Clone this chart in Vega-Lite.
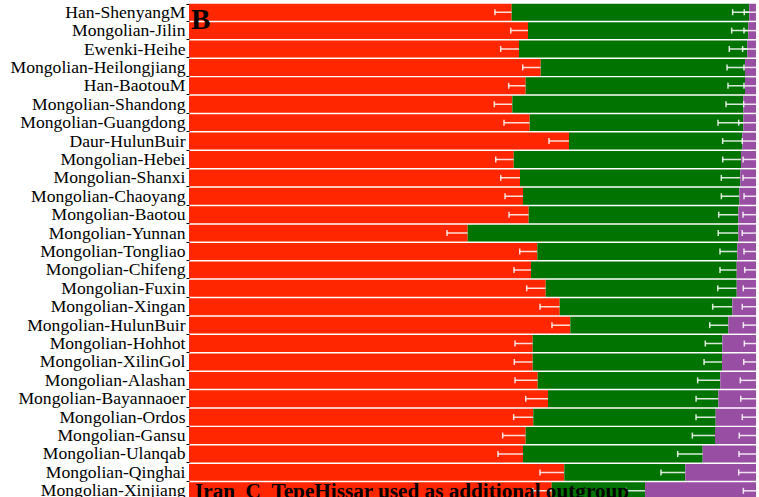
{
  "$schema": "https://vega.github.io/schema/vega-lite/v6.json",
  "width": 567,
  "height": 497,
  "autosize": "none",
  "padding": {"left": 189, "top": 3, "right": 3, "bottom": 0},
  "background": "white",
  "config": {"view": {"stroke": null}, "font": "Liberation Serif"},
  "layer": [
    {
      "data": {"values": [
        {"pop":"Han-ShenyangM","src":"S1","value":0.5691,"se":0.0295},
        {"pop":"Han-ShenyangM","src":"S2","value":0.4190,"se":0.0293},
        {"pop":"Han-ShenyangM","src":"S3","value":0.0118,"se":0.0206},
        {"pop":"Mongolian-Jilin","src":"S1","value":0.5979,"se":0.0305},
        {"pop":"Mongolian-Jilin","src":"S2","value":0.3885,"se":0.0293},
        {"pop":"Mongolian-Jilin","src":"S3","value":0.0136,"se":0.0212},
        {"pop":"Ewenki-Heihe","src":"S1","value":0.5820,"se":0.0323},
        {"pop":"Ewenki-Heihe","src":"S2","value":0.4026,"se":0.0317},
        {"pop":"Ewenki-Heihe","src":"S3","value":0.0153,"se":0.0235},
        {"pop":"Mongolian-Heilongjiang","src":"S1","value":0.6203,"se":0.0317},
        {"pop":"Mongolian-Heilongjiang","src":"S2","value":0.3603,"se":0.0317},
        {"pop":"Mongolian-Heilongjiang","src":"S3","value":0.0194,"se":0.0212},
        {"pop":"Han-BaotouM","src":"S1","value":0.5938,"se":0.0300},
        {"pop":"Han-BaotouM","src":"S2","value":0.3868,"se":0.0300},
        {"pop":"Han-BaotouM","src":"S3","value":0.0194,"se":0.0212},
        {"pop":"Mongolian-Shandong","src":"S1","value":0.5702,"se":0.0317},
        {"pop":"Mongolian-Shandong","src":"S2","value":0.4074,"se":0.0305},
        {"pop":"Mongolian-Shandong","src":"S3","value":0.0224,"se":0.0217},
        {"pop":"Mongolian-Guangdong","src":"S1","value":0.6009,"se":0.0453},
        {"pop":"Mongolian-Guangdong","src":"S2","value":0.3767,"se":0.0446},
        {"pop":"Mongolian-Guangdong","src":"S3","value":0.0224,"se":0.0305},
        {"pop":"Daur-HulunBuir","src":"S1","value":0.6702,"se":0.0353},
        {"pop":"Daur-HulunBuir","src":"S2","value":0.3056,"se":0.0346},
        {"pop":"Daur-HulunBuir","src":"S3","value":0.0242,"se":0.0242},
        {"pop":"Mongolian-Hebei","src":"S1","value":0.5727,"se":0.0317},
        {"pop":"Mongolian-Hebei","src":"S2","value":0.4009,"se":0.0323},
        {"pop":"Mongolian-Hebei","src":"S3","value":0.0265,"se":0.0229},
        {"pop":"Mongolian-Shanxi","src":"S1","value":0.5838,"se":0.0340},
        {"pop":"Mongolian-Shanxi","src":"S2","value":0.3885,"se":0.0335},
        {"pop":"Mongolian-Shanxi","src":"S3","value":0.0277,"se":0.0229},
        {"pop":"Mongolian-Chaoyang","src":"S1","value":0.5891,"se":0.0317},
        {"pop":"Mongolian-Chaoyang","src":"S2","value":0.3815,"se":0.0317},
        {"pop":"Mongolian-Chaoyang","src":"S3","value":0.0295,"se":0.0212},
        {"pop":"Mongolian-Baotou","src":"S1","value":0.5991,"se":0.0347},
        {"pop":"Mongolian-Baotou","src":"S2","value":0.3697,"se":0.0346},
        {"pop":"Mongolian-Baotou","src":"S3","value":0.0312,"se":0.0229},
        {"pop":"Mongolian-Yunnan","src":"S1","value":0.4915,"se":0.0365},
        {"pop":"Mongolian-Yunnan","src":"S2","value":0.4772,"se":0.0353},
        {"pop":"Mongolian-Yunnan","src":"S3","value":0.0312,"se":0.0242},
        {"pop":"Mongolian-Tongliao","src":"S1","value":0.6143,"se":0.0310},
        {"pop":"Mongolian-Tongliao","src":"S2","value":0.3527,"se":0.0305},
        {"pop":"Mongolian-Tongliao","src":"S3","value":0.0330,"se":0.0212},
        {"pop":"Mongolian-Chifeng","src":"S1","value":0.6032,"se":0.0300},
        {"pop":"Mongolian-Chifeng","src":"S2","value":0.3628,"se":0.0295},
        {"pop":"Mongolian-Chifeng","src":"S3","value":0.0340,"se":0.0199},
        {"pop":"Mongolian-Fuxin","src":"S1","value":0.6291,"se":0.0335},
        {"pop":"Mongolian-Fuxin","src":"S2","value":0.3369,"se":0.0335},
        {"pop":"Mongolian-Fuxin","src":"S3","value":0.0340,"se":0.0224},
        {"pop":"Mongolian-Xingan","src":"S1","value":0.6538,"se":0.0347},
        {"pop":"Mongolian-Xingan","src":"S2","value":0.3044,"se":0.0346},
        {"pop":"Mongolian-Xingan","src":"S3","value":0.0418,"se":0.0242},
        {"pop":"Mongolian-HulunBuir","src":"S1","value":0.6725,"se":0.0323},
        {"pop":"Mongolian-HulunBuir","src":"S2","value":0.2787,"se":0.0328},
        {"pop":"Mongolian-HulunBuir","src":"S3","value":0.0489,"se":0.0224},
        {"pop":"Mongolian-Hohhot","src":"S1","value":0.6062,"se":0.0312},
        {"pop":"Mongolian-Hohhot","src":"S2","value":0.3344,"se":0.0300},
        {"pop":"Mongolian-Hohhot","src":"S3","value":0.0594,"se":0.0206},
        {"pop":"Mongolian-XilinGol","src":"S1","value":0.6062,"se":0.0325},
        {"pop":"Mongolian-XilinGol","src":"S2","value":0.3339,"se":0.0317},
        {"pop":"Mongolian-XilinGol","src":"S3","value":0.0600,"se":0.0217},
        {"pop":"Mongolian-Alashan","src":"S1","value":0.6150,"se":0.0400},
        {"pop":"Mongolian-Alashan","src":"S2","value":0.3220,"se":0.0399},
        {"pop":"Mongolian-Alashan","src":"S3","value":0.0630,"se":0.0277},
        {"pop":"Mongolian-Bayannaoer","src":"S1","value":0.6332,"se":0.0393},
        {"pop":"Mongolian-Bayannaoer","src":"S2","value":0.3004,"se":0.0393},
        {"pop":"Mongolian-Bayannaoer","src":"S3","value":0.0665,"se":0.0270},
        {"pop":"Mongolian-Ordos","src":"S1","value":0.6072,"se":0.0346},
        {"pop":"Mongolian-Ordos","src":"S2","value":0.3217,"se":0.0347},
        {"pop":"Mongolian-Ordos","src":"S3","value":0.0711,"se":0.0242},
        {"pop":"Mongolian-Gansu","src":"S1","value":0.5938,"se":0.0406},
        {"pop":"Mongolian-Gansu","src":"S2","value":0.3339,"se":0.0400},
        {"pop":"Mongolian-Gansu","src":"S3","value":0.0723,"se":0.0295},
        {"pop":"Mongolian-Ulanqab","src":"S1","value":0.5891,"se":0.0441},
        {"pop":"Mongolian-Ulanqab","src":"S2","value":0.3169,"se":0.0441},
        {"pop":"Mongolian-Ulanqab","src":"S3","value":0.0940,"se":0.0300},
        {"pop":"Mongolian-Qinghai","src":"S1","value":0.6619,"se":0.0429},
        {"pop":"Mongolian-Qinghai","src":"S2","value":0.2134,"se":0.0429},
        {"pop":"Mongolian-Qinghai","src":"S3","value":0.1247,"se":0.0305},
        {"pop":"Mongolian-Xinjiang","src":"S1","value":0.6397,"se":0.0335},
        {"pop":"Mongolian-Xinjiang","src":"S2","value":0.1646,"se":0.0340},
        {"pop":"Mongolian-Xinjiang","src":"S3","value":0.1958,"se":0.0224}
      ]},
      "transform": [
        {"stack": "value", "groupby": ["pop"], "sort": [{"field": "src", "order": "ascending"}], "as": ["x0", "x1"]}
      ],
      "encoding": {
        "y": {
          "field": "pop", "type": "nominal",
          "sort": ["Han-ShenyangM","Mongolian-Jilin","Ewenki-Heihe","Mongolian-Heilongjiang","Han-BaotouM","Mongolian-Shandong","Mongolian-Guangdong","Daur-HulunBuir","Mongolian-Hebei","Mongolian-Shanxi","Mongolian-Chaoyang","Mongolian-Baotou","Mongolian-Yunnan","Mongolian-Tongliao","Mongolian-Chifeng","Mongolian-Fuxin","Mongolian-Xingan","Mongolian-HulunBuir","Mongolian-Hohhot","Mongolian-XilinGol","Mongolian-Alashan","Mongolian-Bayannaoer","Mongolian-Ordos","Mongolian-Gansu","Mongolian-Ulanqab","Mongolian-Qinghai","Mongolian-Xinjiang"],
          "scale": {"paddingInner": 0.08, "paddingOuter": 0.04},
          "axis": {
            "title": null, "domain": false, "ticks": true, "tickBand": "extent",
            "tickSize": 3, "tickColor": "black", "tickWidth": 1,
            "labelFont": "Liberation Serif", "labelFontSize": 17.6, "labelColor": "black",
            "labelPadding": 1, "labelLimit": 400
          }
        }
      },
      "layer": [
        {
          "transform": [{"filter": "datum.src === 'S1'"}],
          "mark": {"type": "bar", "color": "#FF2600"},
          "encoding": {
            "x": {"field": "x0", "type": "quantitative", "scale": {"domain": [0, 1], "nice": false}, "axis": null},
            "x2": {"field": "x1"}
          }
        },
        {
          "transform": [{"filter": "datum.src === 'S1'"}],
          "mark": {"type": "errorbar", "color": "white", "opacity": 0.85, "thickness": 1.5, "ticks": {"size": 6}},
          "encoding": {
            "x": {"field": "x1", "type": "quantitative", "axis": null},
            "xError": {"field": "se"}
          }
        },
        {
          "transform": [{"filter": "datum.src === 'S2'"}],
          "mark": {"type": "bar", "color": "#007300"},
          "encoding": {
            "x": {"field": "x0", "type": "quantitative", "axis": null},
            "x2": {"field": "x1"}
          }
        },
        {
          "transform": [{"filter": "datum.src === 'S2'"}],
          "mark": {"type": "errorbar", "color": "white", "opacity": 0.85, "thickness": 1.5, "ticks": {"size": 6}},
          "encoding": {
            "x": {"field": "x1", "type": "quantitative", "axis": null},
            "xError": {"field": "se"}
          }
        },
        {
          "transform": [{"filter": "datum.src === 'S3'"}],
          "mark": {"type": "bar", "color": "#984EA3"},
          "encoding": {
            "x": {"field": "x0", "type": "quantitative", "axis": null},
            "x2": {"field": "x1"}
          }
        },
        {
          "transform": [{"filter": "datum.src === 'S3'"}],
          "mark": {"type": "errorbar", "color": "white", "opacity": 0.85, "thickness": 1.5, "ticks": {"size": 6}},
          "encoding": {
            "x": {"field": "x1", "type": "quantitative", "axis": null},
            "xError": {"field": "se"}
          }
        }
      ]
    },
    {
      "data": {"values": [{"t": "B"}]},
      "mark": {"type": "text", "font": "Liberation Serif", "fontWeight": "bold", "fontSize": 29, "align": "left", "baseline": "alphabetic", "dx": 2, "dy": 17, "color": "black"},
      "encoding": {
        "x": {"datum": 0, "type": "quantitative", "axis": null},
        "y": {"datum": "Han-ShenyangM", "type": "nominal"},
        "text": {"field": "t"}
      }
    },
    {
      "data": {"values": [{"t": "Iran_C_TepeHissar used as additional outgroup"}]},
      "mark": {"type": "text", "font": "Liberation Serif", "fontWeight": "bold", "fontSize": 21.2, "align": "left", "baseline": "alphabetic", "dx": 6, "dy": 7.5, "color": "black"},
      "encoding": {
        "x": {"datum": 0, "type": "quantitative", "axis": null},
        "y": {"datum": "Mongolian-Xinjiang", "type": "nominal"},
        "text": {"field": "t"}
      }
    }
  ]
}
